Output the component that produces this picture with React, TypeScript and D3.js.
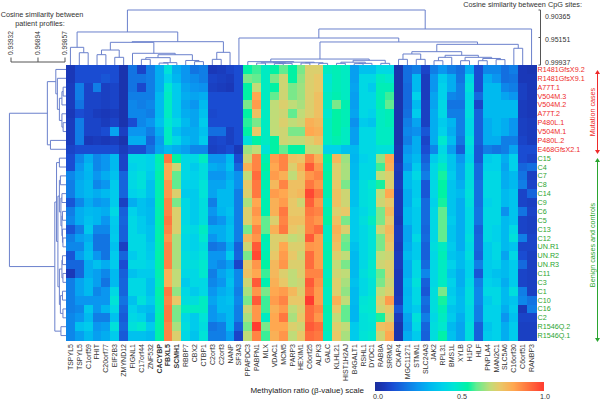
import * as d3 from "d3";

type Tree = number | [number, Tree, Tree];

const genes = ["TSPYL5","TSPYL5","C1orf59","FHIT","C20orf77","EIF2B3","ZMYND12","FIGNL1","C17orf44","ZNF532","CACYBP","FBXL5","SCMH1","RBBP7","CBX2","CTBP1","C2orf3","C2orf3","NANP","SF3A3","PPAPDC3","PABPN1","MLX","VDAC1","MCM5","PARP3","HEXIM1","C6orf25","ALPK3","GALC","KLHL21","HIST1H2AJ","B4GALT1","RSHL1","DYDC1","RAB8A","SRRM2","CKAP4","MGC11271","STMN1","SLC24A3","JAK2","RPL31","BMS1L","XYLB","H1F0","HLF","PNPLA4","MAN2C1","SLC5A6","C16orf30","C6orf51","RANBP3"];
const boldGenes = ["CACYBP", "FBXL5", "SCMH1"];

const mutationCases = ["R1481GfsX9.2","R1481GfsX9.1","A77T.1","V504M.3","V504M.2","A77T.2","P480L.1","V504M.1","P480L.2","E468GfsX2.1"];
const benignCases = ["C15","C4","C7","C8","C14","C9","C6","C5","C13","C12","UN.R1","UN.R2","UN.R3","C11","C3","C1","C10","C16","C2","R1546Q.2","R1546Q.1"];

// one inner array per gene, top to bottom
const mutationValues: number[][] = [
  [.05,.05,.06,.06,.06,.05,.06,.06,.06,.08],
  [.1,.1,.2,.2,.18,.1,.2,.2,.2,.1],
  [.1,.1,.08,.08,.08,.08,.08,.08,.05,.1],
  [.1,.1,.2,.08,.08,.06,.08,.08,.06,.1],
  [.1,.12,.07,.07,.07,.05,.06,.1,.05,.1],
  [.1,.1,.08,.08,.08,.06,.08,.28,.06,.1],
  [.03,.03,.03,.03,.03,.03,.03,.07,.03,.06],
  [.18,.18,.18,.2,.22,.22,.1,.25,.3,.1],
  [.08,.18,.09,.2,.2,.22,.22,.25,.3,.1],
  [.2,.2,.2,.2,.22,.2,.25,.2,.15,.18],
  [.3,.3,.3,.33,.33,.33,.35,.3,.26,.28],
  [.45,.4,.48,.5,.5,.5,.48,.5,.5,.33],
  [.3,.32,.38,.38,.38,.38,.42,.35,.42,.3],
  [.25,.25,.28,.3,.28,.3,.33,.3,.33,.27],
  [.18,.23,.25,.28,.25,.28,.28,.3,.3,.22],
  [.2,.2,.24,.3,.33,.35,.38,.35,.38,.22],
  [.05,.08,.07,.1,.1,.09,.1,.17,.08,.07],
  [.06,.07,.06,.1,.1,.1,.1,.17,.09,.08],
  [.08,.06,.05,.1,.1,.1,.1,.07,.07,.1],
  [.1,.1,.1,.1,.1,.1,.1,.1,.1,.05],
  [.55,.62,.55,.55,.62,.55,.57,.55,.45,.65],
  [.58,.6,.68,.82,.84,.76,.62,.74,.55,.68],
  [.5,.5,.5,.5,.5,.5,.5,.5,.5,.46],
  [.55,.62,.55,.6,.68,.68,.68,.68,.55,.55],
  [.6,.7,.7,.7,.72,.7,.72,.7,.7,.6],
  [.55,.55,.62,.62,.68,.6,.68,.62,.68,.55],
  [.62,.64,.65,.65,.66,.68,.7,.62,.68,.55],
  [.72,.72,.72,.72,.72,.72,.8,.82,.72,.68],
  [.72,.74,.74,.76,.76,.76,.78,.8,.76,.68],
  [.5,.47,.48,.5,.5,.48,.5,.5,.5,.4],
  [.52,.52,.52,.53,.62,.55,.55,.55,.53,.4],
  [.5,.5,.5,.5,.53,.52,.52,.5,.5,.35],
  [.27,.27,.28,.27,.27,.28,.24,.27,.27,.33],
  [.35,.42,.42,.42,.42,.42,.38,.42,.42,.42],
  [.35,.42,.38,.42,.42,.4,.36,.42,.42,.42],
  [.42,.5,.52,.52,.52,.5,.5,.5,.5,.45],
  [.42,.48,.52,.58,.6,.52,.52,.5,.5,.45],
  [.03,.03,.03,.03,.03,.03,.03,.03,.03,.04],
  [.17,.17,.16,.16,.16,.17,.2,.22,.2,.25],
  [.2,.33,.33,.4,.33,.38,.28,.24,.3,.3],
  [.08,.06,.06,.06,.07,.07,.07,.12,.08,.1],
  [.2,.25,.25,.28,.28,.3,.3,.3,.3,.22],
  [.25,.38,.4,.4,.42,.42,.38,.4,.48,.42],
  [.2,.3,.3,.22,.18,.2,.32,.3,.34,.27],
  [.17,.18,.2,.2,.18,.2,.2,.2,.18,.13],
  [.3,.42,.45,.42,.43,.44,.42,.42,.45,.42],
  [.1,.1,.1,.16,.08,.14,.14,.14,.14,.12],
  [.22,.3,.33,.33,.33,.33,.3,.3,.3,.2],
  [.22,.25,.33,.33,.33,.33,.33,.33,.3,.18],
  [.17,.17,.22,.28,.33,.33,.3,.3,.2,.2],
  [.2,.18,.2,.25,.33,.33,.25,.25,.2,.28],
  [.05,.05,.07,.07,.06,.06,.07,.07,.08,.1],
  [.04,.05,.05,.05,.05,.05,.06,.06,.06,.1],
];

const benignValues: number[][] = [
  [.1,.1,.22,.2,.2,.12,.2,.22,.12,.2,.22,.12,.15,.05,.2,.2,.2,.2,.22,.22,.22],
  [.22,.25,.28,.3,.3,.22,.3,.3,.2,.27,.22,.27,.15,.15,.28,.28,.25,.22,.25,.35,.27],
  [.3,.33,.32,.33,.33,.3,.33,.35,.37,.3,.33,.35,.3,.3,.33,.33,.25,.37,.33,.38,.33],
  [.22,.22,.25,.22,.3,.25,.32,.32,.22,.18,.18,.25,.35,.27,.27,.22,.25,.25,.2,.25,.27],
  [.25,.25,.3,.25,.33,.27,.3,.25,.22,.18,.18,.18,.3,.22,.18,.25,.25,.32,.2,.27,.3],
  [.33,.33,.35,.38,.38,.38,.42,.38,.37,.38,.35,.38,.38,.33,.33,.42,.46,.42,.35,.45,.38],
  [.08,.08,.15,.15,.15,.07,.14,.15,.14,.14,.07,.15,.1,.14,.15,.15,.18,.15,.13,.15,.13],
  [.42,.4,.42,.42,.4,.3,.4,.42,.42,.42,.42,.38,.42,.35,.42,.42,.35,.4,.42,.45,.35],
  [.42,.42,.45,.45,.42,.35,.35,.38,.38,.42,.42,.42,.42,.38,.42,.42,.45,.35,.4,.48,.35],
  [.4,.4,.38,.35,.35,.32,.33,.33,.35,.35,.37,.38,.4,.38,.35,.35,.38,.33,.3,.38,.33],
  [.53,.52,.54,.53,.53,.54,.53,.54,.53,.54,.53,.54,.54,.53,.52,.54,.53,.52,.54,.54,.54],
  [.9,.82,.82,.85,.85,.88,.88,.9,.88,.85,.88,.88,.88,.8,.8,.9,.88,.9,.9,.88,.88],
  [.55,.7,.6,.6,.72,.62,.72,.72,.72,.66,.66,.66,.66,.68,.68,.64,.74,.62,.62,.66,.72],
  [.42,.42,.42,.4,.38,.42,.42,.42,.44,.42,.42,.44,.44,.42,.38,.42,.44,.5,.42,.44,.42],
  [.42,.38,.4,.4,.38,.38,.38,.38,.42,.4,.4,.42,.44,.42,.42,.38,.44,.5,.38,.38,.36],
  [.5,.44,.44,.46,.46,.44,.44,.44,.5,.48,.44,.46,.48,.48,.42,.42,.5,.5,.46,.44,.46],
  [.25,.3,.25,.28,.28,.2,.25,.22,.3,.25,.18,.25,.25,.2,.22,.25,.28,.25,.25,.18,.2],
  [.25,.28,.25,.28,.33,.33,.32,.25,.3,.3,.2,.25,.22,.28,.25,.3,.33,.33,.28,.2,.2],
  [.33,.35,.3,.33,.33,.33,.35,.33,.35,.35,.3,.38,.27,.33,.35,.33,.35,.33,.33,.33,.27],
  [.1,.15,.24,.24,.2,.2,.2,.2,.2,.2,.14,.15,.08,.22,.22,.2,.22,.2,.2,.14,.08],
  [.7,.8,.68,.74,.72,.66,.72,.72,.62,.78,.7,.62,.74,.76,.7,.66,.62,.7,.66,.62,.68],
  [.88,.88,.92,.9,.9,.82,.85,.82,.88,.85,.95,.98,.85,.82,.95,.85,.95,.85,.85,1,.88],
  [.53,.55,.53,.53,.52,.53,.53,.6,.6,.53,.52,.53,.55,.58,.53,.62,.58,.58,.5,.62,.58],
  [.84,.82,.84,.78,.84,.8,.8,.72,.8,.72,.72,.74,.78,.78,.8,.82,.84,.8,.82,.82,.8],
  [.88,.88,.8,.88,.82,.84,.9,.88,.9,.72,.82,.84,.85,.72,.74,.84,.88,.84,.9,.82,.85],
  [.76,.72,.68,.76,.76,.74,.74,.76,.74,.68,.72,.74,.72,.68,.68,.78,.74,.68,.66,.72,.68],
  [.75,.8,.76,.76,.78,.7,.74,.76,.72,.7,.72,.7,.72,.72,.7,.72,.74,.72,.74,.7,.74],
  [.88,.95,.85,.9,.98,.94,.9,.88,.88,.95,.85,.92,.92,.88,.95,.92,1,.92,.92,.95,.92],
  [.8,.85,.88,.85,.9,.85,.88,.85,.92,.84,.84,.84,.84,.88,.86,.84,.84,.88,.85,.92,.9],
  [.55,.53,.55,.53,.53,.5,.53,.55,.5,.5,.52,.53,.52,.5,.52,.5,.5,.53,.52,.52,.5],
  [.78,.72,.72,.74,.76,.76,.72,.76,.8,.78,.76,.72,.68,.7,.72,.72,.8,.74,.68,.72,.74],
  [.65,.66,.66,.62,.7,.7,.74,.62,.72,.62,.6,.68,.62,.68,.66,.64,.68,.6,.6,.68,.66],
  [.32,.33,.33,.35,.35,.35,.38,.38,.38,.38,.35,.33,.33,.33,.35,.33,.33,.32,.32,.38,.38],
  [.4,.42,.42,.44,.44,.44,.42,.44,.42,.42,.42,.42,.42,.44,.42,.42,.46,.47,.45,.45,.46],
  [.42,.42,.42,.48,.46,.46,.46,.5,.46,.46,.46,.46,.48,.48,.46,.46,.48,.48,.47,.46,.48],
  [.64,.58,.68,.56,.68,.7,.62,.62,.7,.62,.62,.68,.7,.6,.62,.68,.72,.7,.56,.76,.7],
  [.82,.8,.72,.72,.82,.74,.78,.74,.78,.76,.74,.7,.72,.72,.7,.72,.84,.74,.7,.78,.82],
  [.04,.06,.05,.06,.05,.05,.05,.04,.06,.06,.05,.06,.06,.05,.05,.05,.06,.12,.06,.03,.03],
  [.28,.25,.33,.33,.3,.3,.33,.33,.28,.28,.3,.33,.3,.3,.33,.32,.33,.33,.28,.26,.3],
  [.33,.38,.42,.38,.38,.4,.38,.38,.38,.42,.38,.38,.42,.42,.45,.42,.42,.38,.45,.42,.38],
  [.14,.17,.2,.12,.12,.16,.16,.16,.15,.16,.14,.14,.16,.22,.14,.12,.17,.15,.2,.15,.14],
  [.38,.42,.42,.42,.42,.4,.42,.42,.42,.42,.44,.42,.42,.42,.42,.44,.44,.44,.42,.44,.44],
  [.45,.5,.56,.55,.55,.56,.6,.6,.6,.6,.5,.52,.5,.5,.5,.62,.56,.52,.5,.48,.54],
  [.36,.36,.38,.36,.36,.36,.36,.38,.36,.36,.38,.36,.4,.36,.4,.38,.4,.36,.38,.33,.35],
  [.25,.28,.28,.3,.33,.3,.3,.3,.3,.3,.3,.33,.33,.3,.3,.32,.33,.33,.3,.28,.28],
  [.4,.44,.44,.44,.45,.44,.42,.42,.42,.44,.42,.44,.4,.4,.42,.44,.44,.42,.42,.44,.44],
  [.12,.16,.16,.17,.17,.17,.18,.18,.14,.15,.15,.14,.2,.12,.2,.22,.22,.2,.2,.14,.14],
  [.38,.4,.42,.42,.42,.4,.42,.42,.42,.42,.38,.38,.38,.38,.4,.42,.38,.4,.4,.36,.38],
  [.4,.4,.42,.42,.42,.42,.42,.42,.4,.4,.42,.42,.4,.35,.38,.42,.42,.4,.4,.4,.4],
  [.3,.28,.3,.3,.33,.33,.24,.33,.33,.33,.33,.28,.33,.33,.3,.33,.33,.3,.25,.3,.3],
  [.4,.4,.33,.33,.36,.36,.36,.36,.42,.45,.36,.42,.38,.38,.38,.44,.36,.38,.35,.38,.38],
  [.1,.15,.18,.2,.08,.08,.18,.08,.08,.2,.08,.1,.16,.08,.08,.2,.22,.05,.08,.07,.07],
  [.08,.17,.07,.08,.15,.07,.08,.07,.07,.08,.08,.07,.07,.07,.07,.07,.18,.2,.08,.07,.07],
];

// dendrograms: [similarity of the merge, left branch, right branch], numbers are leaf indexes
const geneTree: Tree = [.90365,
  [.9419,
    [.9686, 0, [.978, 1, 2]],
    [.9588,
      [.9599,
        [.9733, [.9814, 3, 4], [.986, 5, 6]],
        [.979, 7, [.9815,
          [.9866, [.9895, 8, 9], [.9953, [.996, 10, 11], 12]],
          [.9915, 13, [.9935, 14, 15]]]]],
      [.9773, [.9895, 16, 17], 18]]],
  [.9367,
    [.9524, 19,
      [.9593,
        [.989,
          [.9935, 20, [.9945,
            [.9955, [.996, 21, 22], [.9965, [.997, 23, 24], 25]],
            [.9955, [.996, 26, 27], [.9965, 28, 29]]]],
          [.9912,
            [.9945, [.9965, 30, 31], [.9965, [.997, 32, 33], 34]],
            [.9965, 35, 36]]],
        [.9634,
          [.9762,
            [.9802, [.9895, 37, 38], [.9895, 39, 40]],
            [.9825,
              [.986, [.9919, 41, 42], 43],
              [.986, [.9919, 44, 45], [.988, [.9919, 46, 47], [.99, 48, 49]]]]],
          [.9703, 50, 51]]]],
    52]];

const caseTree: Tree = [.9376,
  [.9792,
    [.9885, 0, [.9902, 1, [.9924,
      [.9952, [.9965, 2, 3], 4],
      [.9952, 5, [.9965, 6, 7]]]]],
    [.9826, 8, 9]],
  [.9874,
    [.9893,
      [.9924, 10, 11],
      [.9908,
        [.9924, [.9935, 12, 13], [.9941, [.9952, 14, 15], [.9952, [.9958, 16, 17], [.9958, 18, [.9963, 19, 20]]]]],
        [.9924, [.9952, [.9958, 21, 22], [.9963, 23, 24]], [.9935, [.9958, 25, 26], [.9963, 27, 28]]]]],
    [.9941, 29, 30]]];

const caseTicks = [.93932, .96894, .99857];
const geneTicks = [.90365, .95151, .99937];
const scaleTicks = [0, .5, 1];
const scaleStops = [0, .05, .1, .18, .25, .32, .4, .47, .55, .6, .68, .74, .82, .9, 1];
const scaleColors = ["#1b2f9e", "#1a38b8", "#1a4cd2", "#1274e2", "#0a96f0", "#00b6f0", "#00d2ea", "#00e6d4", "#00f2a4", "#62ec90", "#c0dc78", "#e8c868", "#ffa850", "#ff7840", "#ff3c30"];

const width = 600;
const height = 400;
const left = 66;
const top = 65;
const allCases = [...mutationCases, ...benignCases];
const x = d3.scaleBand<number>().domain(d3.range(genes.length)).range([left, 536]);
const y = d3.scaleBand<number>().domain(d3.range(allCases.length)).range([top, 340]);
const color = d3.scaleLinear<string>().domain(scaleStops).range(scaleColors).clamp(true);
const geneY = d3.scaleLinear().domain([.90365, .99937]).range([10, 65]);
const caseX = d3.scaleLinear().domain([.93932, .99857]).range([11, 65]);
const legendX = d3.scaleLinear().domain([0, 1]).range([375, 543]);

const font = "Liberation Sans, Arial, sans-serif";
const RED = "#ee2a2a";
const GREEN = "#2aa530";
const TREE = "#6a80cc";

// walks a tree, returns the centre of the branch and adds its elbow to the path
function drawTree(t: Tree, pos: (i: number) => number, h: (s: number) => number, path: d3.Path, base: number, vertical: boolean): [number, number] {
  if (typeof t === "number") return [pos(t), base];
  const [a, aH] = drawTree(t[1], pos, h, path, base, vertical);
  const [b, bH] = drawTree(t[2], pos, h, path, base, vertical);
  const level = h(t[0]);
  const pt = (p: number, l: number): [number, number] => (vertical ? [p, l] : [l, p]);
  path.moveTo(...pt(a, aH));
  path.lineTo(...pt(a, level));
  path.lineTo(...pt(b, level));
  path.lineTo(...pt(b, bH));
  return [(a + b) / 2, level];
}

const geneCentre = (i: number) => x(i)! + x.bandwidth() / 2;
const caseCentre = (i: number) => y(i)! + y.bandwidth() / 2;

function treePath(t: Tree, vertical: boolean) {
  const p = d3.path();
  if (vertical) {
    drawTree(t, geneCentre, geneY, p, top, true);
  } else {
    drawTree(t, caseCentre, caseX, p, left, false);
  }
  return p.toString();
}

const legendSteps = d3.range(0, 1, 1 / 168);

function Arrow({ y0, y1, fill }: { y0: number; y1: number; fill: string }) {
  const ax = 597.5;
  return (
    <g>
      <line x1={ax} x2={ax} y1={y0 + 3} y2={y1 - 3} stroke={fill} strokeWidth={1} />
      <path d={`M${ax - 2.5},${y0 + 4}L${ax},${y0}L${ax + 2.5},${y0 + 4}Z`} fill={fill} />
      <path d={`M${ax - 2.5},${y1 - 4}L${ax},${y1}L${ax + 2.5},${y1 - 4}Z`} fill={fill} />
    </g>
  );
}

export default function App() {
  const values = genes.map((_, i) => [...mutationValues[i], ...benignValues[i]]);
  return (
    <svg width={width} height={height} style={{ position: "absolute", left: 0, top: 0, background: "#fff" }} fontFamily={font}>
      {/* heatmap */}
      <g shapeRendering="crispEdges">
        {values.map((col, i) =>
          col.map((v, j) => (
            <rect key={`${i}-${j}`} x={x(i)} y={y(j)} width={x.bandwidth() + .5} height={y.bandwidth() + .5} fill={color(v)} />
          ))
        )}
      </g>

      {/* dendrograms */}
      <path d={treePath(geneTree, true)} fill="none" stroke={TREE} strokeWidth={1} />
      <path d={treePath(caseTree, false)} fill="none" stroke={TREE} strokeWidth={1} />

      {/* row labels */}
      {allCases.map((c, j) => (
        <text key={j} x={537.5} y={caseCentre(j)} dy="0.35em" fontSize={7.2} fill={j < mutationCases.length ? RED : GREEN}>{c}</text>
      ))}

      {/* column labels */}
      {genes.map((g, i) => (
        <text key={i} transform={`translate(${geneCentre(i)},344) rotate(-90)`} dy="0.35em" textAnchor="end" fontSize={7}
          fill="#333" fontWeight={boldGenes.includes(g) ? "bold" : "normal"}>{g}</text>
      ))}

      {/* patient similarity scale */}
      <text x={42} y={17} textAnchor="middle" fontSize={7.3} fill="#333">Cosine similarity between</text>
      <text x={40} y={26} textAnchor="middle" fontSize={7.3} fill="#333">patient profiles:</text>
      <path d={`M${caseX(caseTicks[0])},57.5V62H${caseX(caseTicks[2])}V57.5M${caseX(caseTicks[1])},62V57.5`} fill="none" stroke="#555" strokeWidth={1} />
      {caseTicks.map((t) => (
        <text key={t} transform={`translate(${caseX(t)},55) rotate(-90)`} dy="0.35em" fontSize={6.6} fill="#333">{t.toFixed(5)}</text>
      ))}

      {/* gene similarity scale */}
      <text x={582} y={7} textAnchor="end" fontSize={7.3} fill="#333">Cosine similarity between CpG sites:</text>
      <path d={`M538.5,${geneY(geneTicks[0])}H540.5V${geneY(geneTicks[2])}H538.5M538.5,${geneY(geneTicks[1])}H540.5`} fill="none" stroke="#555" strokeWidth={1} />
      {geneTicks.map((t, i) => (
        <text key={t} x={545} y={[17, 40, 63][i]} dy="0.35em" fontSize={7} fill="#333">{t.toFixed(5)}</text>
      ))}

      {/* case groups */}
      <text transform="translate(592.5,112) rotate(-90)" dy="0.35em" textAnchor="middle" fontSize={7.2} fill={RED}>Mutation cases</text>
      <Arrow y0={70} y1={154} fill={RED} />
      <text transform="translate(592.5,245) rotate(-90)" dy="0.35em" textAnchor="middle" fontSize={7.2} fill={GREEN}>Benign cases and controls</text>
      <Arrow y0={158} y1={342} fill={GREEN} />

      {/* colour scale */}
      <text x={364} y={393} textAnchor="end" fontSize={8} fill="#222">Methylation ratio (β-value) scale</text>
      <g shapeRendering="crispEdges">
        {legendSteps.map((s) => (
          <rect key={s} x={legendX(s)} y={382} width={1.5} height={9} fill={color(s)} />
        ))}
      </g>
      {scaleTicks.map((t) => (
        <text key={t} x={legendX(t) + (t === 0 ? 3 : t === 1 ? 2 : 3)} y={396} dy="0.35em" textAnchor="middle" fontSize={7.2} fill="#333">{t.toFixed(1)}</text>
      ))}
    </svg>
  );
}
